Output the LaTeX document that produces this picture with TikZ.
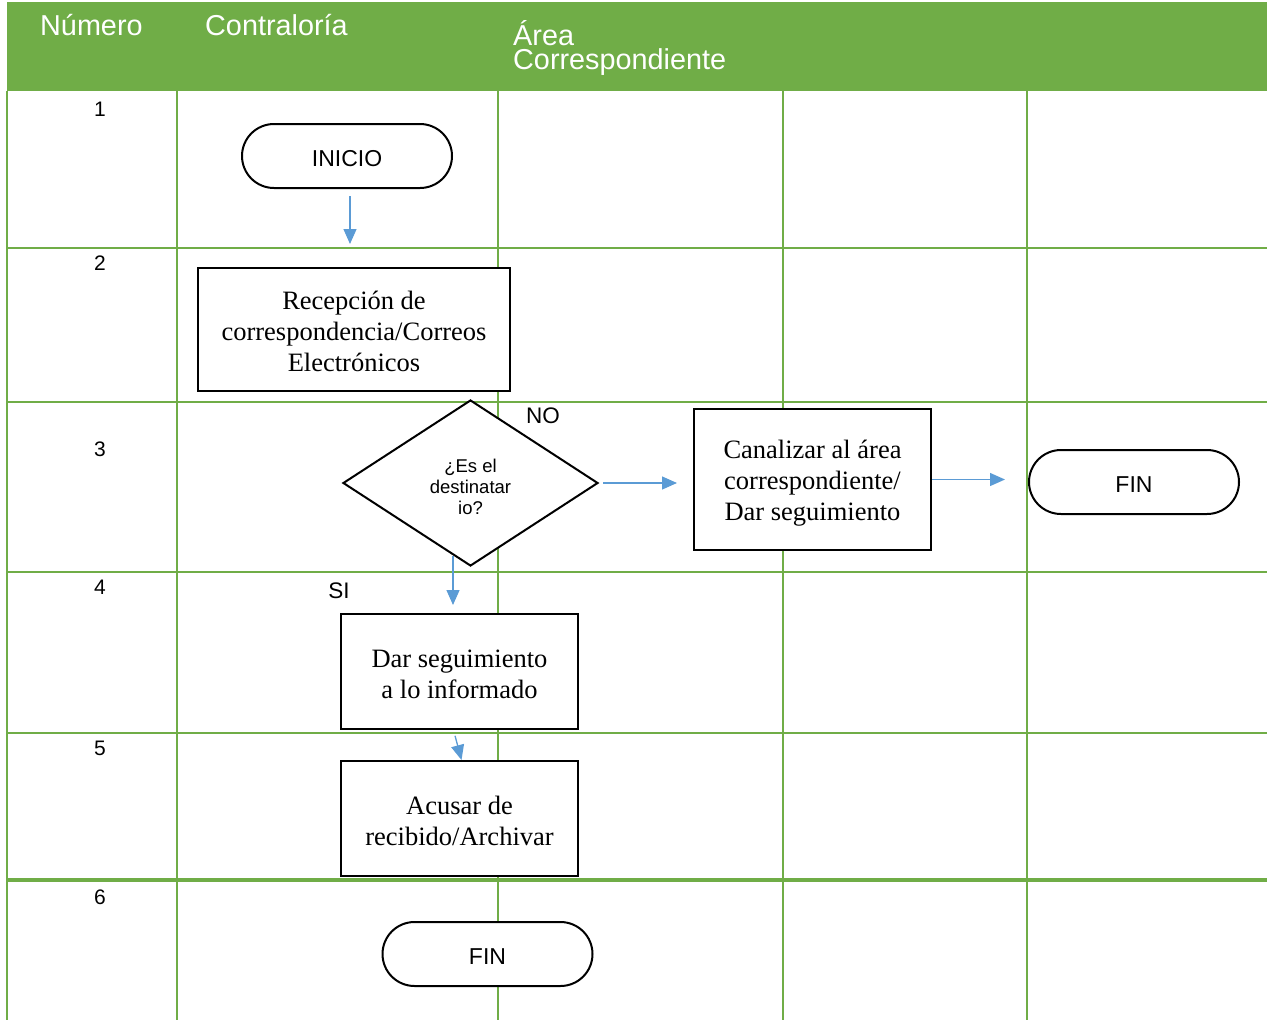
\documentclass[tikz,border=0pt]{standalone}
\usepackage{fontspec}
\setmainfont{Liberation Serif}
\setsansfont{Liberation Sans}
\usetikzlibrary{shapes.geometric,arrows.meta}
\definecolor{hdrgreen}{HTML}{70AD47}
\definecolor{flowblue}{HTML}{5B9BD5}

\begin{document}
\begin{tikzpicture}[x=1pt,y=-1pt,
  gridline/.style={hdrgreen, line width=2pt},
  hdr/.style={text=white, font=\sffamily\fontsize{28.8}{24.5}\selectfont, anchor=base west, inner sep=0pt, align=left},
  rownum/.style={font=\sffamily\fontsize{21}{24}\selectfont, anchor=base, inner sep=0pt},
  procbox/.style={draw, line width=2pt, fill=white, inner sep=0pt},
  boxtext/.style={font=\fontsize{26.5}{31}\selectfont, align=center, inner sep=0pt},
  term/.style={draw, line width=2pt, fill=white, rounded corners=32pt, minimum width=210pt, minimum height=64pt, inner sep=0pt},
  termtext/.style={font=\sffamily\fontsize{23}{24}\selectfont, inner sep=0pt},
  decision/.style={draw, line width=2pt, fill=white, diamond, inner sep=0pt, minimum width=255pt, minimum height=166pt},
  dectext/.style={align=center, inner sep=0pt, font=\sffamily\fontsize{18.5}{21}\selectfont},
  flow/.style={flowblue, line width=1.3pt, -{Triangle[length=15pt,width=13pt]}},
  lbl/.style={font=\sffamily\fontsize{22.5}{24}\selectfont, inner sep=0pt}]

\useasboundingbox (0,0) rectangle (1267,1020);

% header band
\fill[hdrgreen] (7,2) rectangle (1267,91);
\node[hdr] (hnum) at (40,35) {Número};
\node[hdr] (hcon) at (205,35) {Contraloría};
\node[hdr] (hare) at (513,69.5) {Área\\Correspondiente};

% table grid
\foreach \gx in {7,177,498,783,1027}
  \draw[gridline] (\gx,91) -- (\gx,1020);
\foreach \gy in {248,402,572,733}
  \draw[gridline] (7,\gy) -- (1267,\gy);
\draw[hdrgreen, line width=3.5pt] (7,880) -- (1267,880);

% row numbers
\node[rownum] (r1) at (100,116) {1};
\node[rownum] (r2) at (100,270) {2};
\node[rownum] (r3) at (100,456) {3};
\node[rownum] (r4) at (100,594) {4};
\node[rownum] (r5) at (100,755) {5};
\node[rownum] (r6) at (100,904) {6};

% flow shapes
\node[term] (inicio) at (347,156) {};
\node[procbox, minimum width=312pt, minimum height=123pt] (recep) at (354,329.5) {};
\node[decision] (dec) at (470.5,483) {};
\node[procbox, minimum width=237pt, minimum height=141pt] (canal) at (812.5,479.5) {};
\node[term] (fin1) at (1134,482) {};
\node[procbox, minimum width=237pt, minimum height=115pt] (dar) at (459.5,671.5) {};
\node[procbox, minimum width=237pt, minimum height=115pt] (acusar) at (459.5,818.5) {};
\node[term] (fin2) at (487.5,954) {};

% texts inside the shapes, set a little below the geometric centre
\node[termtext] (inicio-t) at ([yshift=-3pt]inicio.center) {INICIO};
\node[boxtext] (recep-t) at ([yshift=-2pt]recep.center) {Recepción de\\correspondencia/Correos\\Electrónicos};
\node[dectext] (dec-t) at ([yshift=-3.5pt]dec.center) {¿Es el\\destinatar\\io?};
\node[boxtext] (canal-t) at ([yshift=-4pt]canal.center) {Canalizar al área\\correspondiente/\\Dar seguimiento};
\node[termtext] (fin1-t) at ([yshift=-3pt]fin1.center) {FIN};
\node[boxtext] (dar-t) at ([yshift=-3pt]dar.center) {Dar seguimiento\\a lo informado};
\node[boxtext] (acusar-t) at ([yshift=-2pt]acusar.center) {Acusar de\\recibido/Archivar};
\node[termtext] (fin2-t) at ([yshift=-3pt]fin2.center) {FIN};

% branch labels
\node[lbl] (lno) at (543,416) {NO};
\node[lbl] (lsi) at (339,591) {SI};

% connectors
\draw[flow, shorten <=7pt, shorten >=23pt] ([xshift=3pt]inicio.south) -- ([xshift=3pt]inicio.south |- recep.north);
\draw[flow, shorten <=4pt, shorten >=16pt] (dec.east) -- (dec.east -| canal.west);
\draw[flow, shorten >=23pt] (canal.east) -- (canal.east -| fin1.west);
\draw[flow, shorten >=8pt] ([xshift=-17.5pt,yshift=11pt]dec.south) -- ([xshift=-6.5pt]dar.north);
\draw[flow, shorten <=6pt] ([xshift=-6pt]dar.south) -- ([xshift=2pt]acusar.north);
\end{tikzpicture}
\end{document}
